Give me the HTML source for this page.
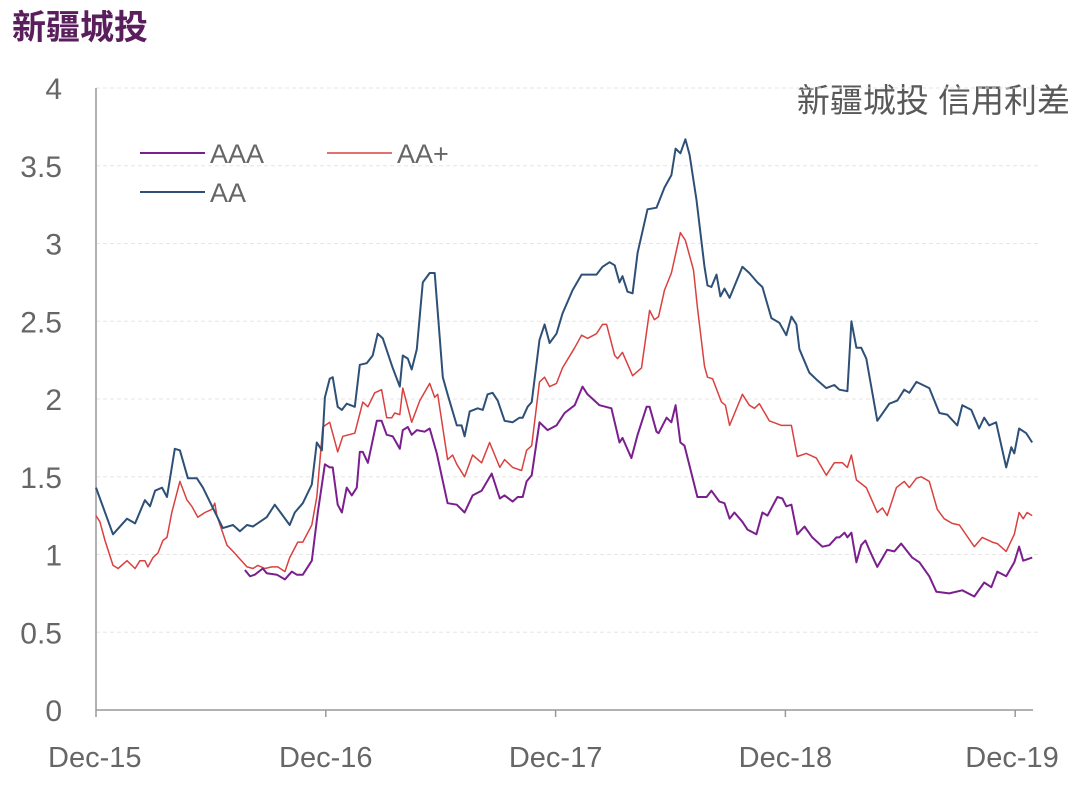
<!DOCTYPE html>
<html><head><meta charset="utf-8"><style>
body{margin:0;background:#fff;width:1080px;height:787px;overflow:hidden;font-family:"Liberation Sans","Noto Sans CJK SC",sans-serif}
</style></head><body>
<svg width="1080" height="787" xmlns="http://www.w3.org/2000/svg">
<text x="12" y="39" font-size="34" font-weight="bold" fill="#5a1e5c" font-family="Noto Sans CJK SC, sans-serif">新疆城投</text>
<text x="1070" y="112" text-anchor="end" font-size="33" fill="#595959" font-family="Liberation Sans, Noto Sans CJK SC, sans-serif">新疆城投 信用利差</text>
<g id="grid"></g><g id="axes"></g><g id="series"></g>
<g>
<line x1="140" y1="153" x2="205" y2="153" stroke="#7b1f8e" stroke-width="2"/>
<text x="210" y="163" font-size="27" fill="#666">AAA</text>
<line x1="327" y1="153" x2="392" y2="153" stroke="#d9413f" stroke-width="1.5"/>
<text x="397" y="163" font-size="27" fill="#666">AA+</text>
<line x1="140" y1="192" x2="205" y2="192" stroke="#2e5077" stroke-width="2"/>
<text x="210" y="202" font-size="27" fill="#666">AA</text>
</g>
</svg>
<script>
const yTicks=[0,0.5,1,1.5,2,2.5,3,3.5,4];
const yTickLabels=["0","0.5","1","1.5","2","2.5","3","3.5","4"];
const xTicks=[0,1,2,3,4];
const xTickLabels=["Dec-15","Dec-16","Dec-17","Dec-18","Dec-19"];
const aaT=[0,.074,.135,.17,.213,.235,.257,.287,.309,.343,.365,.4,.439,.465,.552,.596,.626,.657,.683,.743,.778,.843,.865,.9,.939,.961,.983,.996,1.017,1.03,1.052,1.07,1.091,1.126,1.148,1.178,1.204,1.226,1.248,1.291,1.322,1.335,1.357,1.374,1.396,1.422,1.452,1.474,1.509,1.53,1.57,1.591,1.604,1.626,1.661,1.683,1.704,1.726,1.748,1.778,1.813,1.843,1.857,1.878,1.896,1.93,1.952,1.974,2.004,2.03,2.074,2.113,2.178,2.204,2.235,2.257,2.278,2.291,2.313,2.335,2.357,2.4,2.439,2.474,2.504,2.522,2.543,2.565,2.583,2.613,2.648,2.661,2.678,2.7,2.717,2.735,2.757,2.813,2.843,2.878,2.9,2.939,2.974,3.004,3.026,3.048,3.061,3.104,3.139,3.178,3.213,3.235,3.27,3.287,3.309,3.33,3.352,3.4,3.452,3.487,3.517,3.539,3.57,3.626,3.67,3.704,3.748,3.77,3.809,3.843,3.865,3.887,3.917,3.961,3.983,3.996,4.017,4.048,4.074];
const aaV=[1.43,1.13,1.23,1.20,1.35,1.31,1.41,1.43,1.37,1.68,1.67,1.49,1.49,1.43,1.17,1.19,1.15,1.19,1.18,1.24,1.32,1.19,1.27,1.33,1.45,1.72,1.67,2.01,2.13,2.14,1.95,1.93,1.97,1.95,2.22,2.23,2.28,2.42,2.39,2.20,2.08,2.28,2.26,2.19,2.32,2.75,2.81,2.81,2.14,2.03,1.83,1.83,1.76,1.92,1.94,1.93,2.03,2.04,1.99,1.86,1.85,1.88,1.88,1.95,1.98,2.38,2.48,2.36,2.42,2.55,2.70,2.80,2.80,2.85,2.88,2.86,2.75,2.79,2.69,2.68,2.94,3.22,3.23,3.36,3.44,3.61,3.58,3.67,3.57,3.28,2.85,2.73,2.72,2.80,2.66,2.71,2.65,2.85,2.81,2.75,2.72,2.52,2.49,2.41,2.53,2.48,2.32,2.17,2.12,2.07,2.09,2.06,2.05,2.50,2.33,2.33,2.26,1.86,1.97,1.99,2.06,2.04,2.11,2.07,1.91,1.90,1.83,1.96,1.93,1.81,1.88,1.83,1.85,1.56,1.69,1.65,1.81,1.78,1.72];
const aapT=[0,.017,.039,.074,.096,.135,.17,.191,.213,.226,.248,.27,.291,.309,.33,.365,.396,.417,.443,.474,.504,.517,.526,.57,.596,.657,.683,.704,.735,.765,.791,.822,.843,.878,.9,.939,.961,.987,1.017,1.052,1.074,1.126,1.161,1.183,1.213,1.243,1.265,1.287,1.3,1.322,1.335,1.374,1.409,1.452,1.474,1.487,1.53,1.552,1.57,1.604,1.639,1.678,1.713,1.757,1.778,1.813,1.852,1.874,1.896,1.93,1.952,1.974,2.004,2.03,2.083,2.113,2.139,2.178,2.204,2.222,2.257,2.27,2.291,2.335,2.374,2.409,2.43,2.448,2.474,2.504,2.543,2.565,2.6,2.617,2.648,2.661,2.683,2.722,2.739,2.757,2.813,2.843,2.865,2.887,2.93,2.983,3.026,3.052,3.091,3.135,3.178,3.213,3.248,3.27,3.287,3.309,3.352,3.4,3.422,3.443,3.483,3.517,3.539,3.57,3.591,3.626,3.661,3.691,3.726,3.757,3.822,3.857,3.9,3.922,3.961,3.996,4.017,4.035,4.052,4.074];
const aapV=[1.25,1.21,1.09,0.93,0.91,0.96,0.91,0.96,0.96,0.92,0.98,1.01,1.09,1.11,1.27,1.47,1.35,1.31,1.24,1.27,1.29,1.33,1.25,1.06,1.02,0.92,0.91,0.93,0.91,0.92,0.92,0.89,0.98,1.08,1.08,1.19,1.37,1.82,1.85,1.66,1.76,1.78,1.98,1.95,2.04,2.06,1.88,1.88,1.91,1.90,2.07,1.85,1.99,2.10,2.01,2.03,1.61,1.64,1.58,1.50,1.64,1.59,1.72,1.56,1.61,1.56,1.54,1.67,1.70,2.11,2.14,2.08,2.10,2.20,2.33,2.41,2.39,2.42,2.48,2.48,2.28,2.26,2.30,2.15,2.20,2.57,2.51,2.53,2.70,2.81,3.07,3.02,2.83,2.59,2.21,2.14,2.13,1.98,1.96,1.83,2.03,1.96,1.94,1.97,1.86,1.83,1.83,1.63,1.65,1.62,1.51,1.59,1.59,1.56,1.64,1.48,1.43,1.27,1.30,1.25,1.43,1.47,1.43,1.49,1.50,1.47,1.29,1.23,1.20,1.19,1.05,1.11,1.08,1.07,1.02,1.13,1.27,1.23,1.27,1.25];
const aaaT=[.648,.67,.691,.726,.743,.787,.822,.852,.874,.9,.939,.965,.996,1.017,1.03,1.052,1.07,1.091,1.113,1.135,1.148,1.161,1.183,1.222,1.243,1.265,1.291,1.322,1.335,1.357,1.374,1.396,1.43,1.452,1.483,1.53,1.57,1.604,1.639,1.678,1.722,1.757,1.778,1.813,1.835,1.857,1.874,1.896,1.93,1.965,2.004,2.039,2.083,2.117,2.139,2.191,2.243,2.278,2.291,2.33,2.357,2.396,2.409,2.439,2.448,2.483,2.504,2.522,2.543,2.561,2.617,2.657,2.678,2.713,2.735,2.757,2.778,2.813,2.835,2.874,2.9,2.922,2.965,2.987,3.004,3.026,3.052,3.083,3.117,3.161,3.191,3.222,3.235,3.257,3.27,3.287,3.309,3.33,3.348,3.365,3.4,3.443,3.474,3.504,3.552,3.583,3.626,3.657,3.713,3.77,3.822,3.865,3.896,3.922,3.961,3.996,4.017,4.035,4.074];
const aaaV=[0.90,0.86,0.87,0.91,0.88,0.87,0.84,0.89,0.87,0.87,0.96,1.27,1.58,1.56,1.56,1.32,1.27,1.43,1.38,1.43,1.66,1.66,1.59,1.86,1.86,1.77,1.76,1.68,1.80,1.82,1.77,1.80,1.79,1.81,1.65,1.33,1.32,1.27,1.38,1.41,1.52,1.36,1.38,1.34,1.37,1.37,1.47,1.51,1.85,1.80,1.83,1.91,1.96,2.08,2.03,1.96,1.94,1.72,1.75,1.62,1.77,1.95,1.95,1.79,1.78,1.88,1.85,1.96,1.72,1.70,1.37,1.37,1.41,1.34,1.33,1.23,1.27,1.21,1.16,1.13,1.27,1.25,1.37,1.36,1.31,1.32,1.13,1.18,1.11,1.05,1.06,1.11,1.11,1.14,1.11,1.14,0.95,1.06,1.09,1.03,0.92,1.03,1.02,1.07,0.98,0.95,0.86,0.76,0.75,0.77,0.73,0.82,0.79,0.89,0.86,0.95,1.05,0.96,0.98];
const NS="http://www.w3.org/2000/svg";
const X0=96,XW=229.8,Y0=710,YS=155.5;
function xs(t){return X0+t*XW;}
function ys(v){return Y0-v*YS;}
function mk(tag,attrs,parent){const e=document.createElementNS(NS,tag);for(const k in attrs)e.setAttribute(k,attrs[k]);parent.appendChild(e);return e;}
const grid=document.getElementById('grid'),axes=document.getElementById('axes'),ser=document.getElementById('series');
yTicks.forEach((v,i)=>{
 if(v>0){const g=mk('line',{x1:X0,x2:1040,y1:ys(v),y2:ys(v),stroke:'#e6e6e6','stroke-width':1,'stroke-dasharray':'4 3'},grid);
 
 }
 const t=mk('text',{x:62,y:ys(v)+11,'text-anchor':'end','font-size':30,fill:'#666'},axes);
 t.textContent=yTickLabels[i];
 
 
});
const ya=mk('line',{x1:X0,x2:X0,y1:88,y2:Y0,stroke:'#999','stroke-width':1.5},axes);


const xa=mk('line',{x1:X0,x2:1033,y1:Y0,y2:Y0,stroke:'#999','stroke-width':1.5},axes);


xTicks.forEach((t,i)=>{
 const tk=mk('line',{x1:xs(t),x2:xs(t),y1:Y0,y2:Y0+7,stroke:'#999','stroke-width':1.5},axes);
 
 
 const l=mk('text',{x:i==0?48:(i==4?1012:xs(t)),y:767,'text-anchor':i==0?'start':'middle','font-size':29,fill:'#666'},axes);
 l.textContent=xTickLabels[i];
 
 
});
function line(T,V,color,w,name){
 const d=T.map((t,i)=>(i?'L':'M')+xs(t).toFixed(1)+','+ys(V[i]).toFixed(1)).join('');
 const p=mk('path',{d:d,fill:'none',stroke:color,'stroke-width':w,'stroke-linejoin':'round'},ser);
 
 
}
line(aapT,aapV,'#d9413f',1.5,'series-aaplus-line');
line(aaaT,aaaV,'#7b1f8e',2,'series-aaa-line');
line(aaT,aaV,'#2e5077',2,'series-aa-line');
</script>
</body></html>
